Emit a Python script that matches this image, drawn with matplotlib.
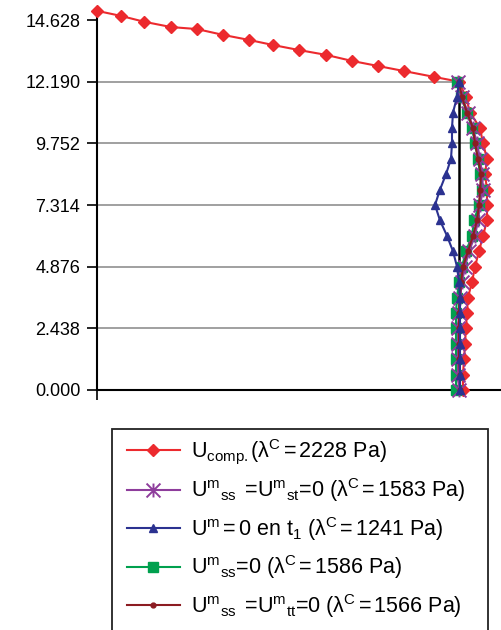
import matplotlib
matplotlib.use("Agg")
import matplotlib.pyplot as plt
from matplotlib.path import Path
from matplotlib.patches import Rectangle

plt.rcParams["font.family"] = ["Liberation Sans", "DejaVu Sans"]
plt.rcParams["mathtext.fontset"] = "custom"
plt.rcParams["mathtext.rm"] = "Liberation Sans"
plt.rcParams["mathtext.it"] = "Liberation Sans:italic"

# horizontal member (only drawn for the compression case)
beam_x = [-36.2, -33.8, -31.5, -28.8, -26.2, -23.6, -21.0, -18.6, -16.0, -13.3, -10.7, -8.1, -5.5, -2.5]
beam_y = [14.99, 14.79, 14.56, 14.35, 14.27, 14.04, 13.84, 13.64, 13.44, 13.25, 13.01, 12.81, 12.61, 12.38]

# node heights along the column
levels = [12.190, 11.581, 10.971, 10.362, 9.752, 9.143, 8.533, 7.924, 7.314, 6.705, 6.095,
          5.486, 4.876, 4.267, 3.657, 3.048, 2.438, 1.829, 1.219, 0.610, 0.000]

u_comp = [0.0, 0.7, 1.1, 2.1, 2.4, 2.8, 2.6, 2.8, 2.8, 2.8, 2.4, 2.0, 1.6, 1.3, 0.9, 0.8, 0.7, 0.6, 0.5, 0.4, 0.4]
u_ss_st = [-0.1, 0.3, 0.9, 1.4, 1.8, 2.1, 2.3, 2.4, 2.1, 1.9, 1.6, 1.0, 0.6, 0.3, 0.1, 0.0, -0.1, -0.1, -0.1, -0.1, 0.0]
u_t1 = [0.0, -0.2, -0.6, -0.7, -0.7, -0.8, -1.3, -1.9, -2.4, -1.9, -1.2, -0.6, -0.2, 0.0, 0.1, 0.1, 0.1, 0.1, 0.1, 0.1, 0.1]
u_ss = [-0.2, 0.2, 0.8, 1.3, 1.6, 1.9, 2.1, 2.3, 2.0, 1.5, 1.3, 0.7, 0.3, 0.0, -0.2, -0.3, -0.3, -0.3, -0.3, -0.3, -0.3]
u_ss_tt = [0.0, 0.3, 0.8, 1.4, 1.6, 1.9, 2.2, 2.1, 2.0, 1.8, 1.4, 0.9, 0.4, 0.2, 0.1, 0.0, 0.0, 0.0, 0.0, 0.1, 0.1]

yticks = [0.000, 2.438, 4.876, 7.314, 9.752, 12.190, 14.628]
grid_levels = [2.438, 4.876, 7.314, 9.752, 12.190]

labels = [
    r"U$_{\mathrm{comp.}}$(λ$^{\mathrm{C}}$$\,$=$\,$2228 Pa)",
    r"U$^{\mathrm{m}}{}_{\mathrm{ss}}$ $\,$=U$^{\mathrm{m}}{}_{\mathrm{st}}$=0 (λ$^{\mathrm{C}}$$\,$=$\,$1583 Pa)",
    r"U$^{\mathrm{m}}$$\,$=$\,$0 en t$_{\mathrm{1}}$ (λ$^{\mathrm{C}}$$\,$=$\,$1241 Pa)",
    r"U$^{\mathrm{m}}{}_{\mathrm{ss}}$=0 (λ$^{\mathrm{C}}$$\,$=$\,$1586 Pa)",
    r"U$^{\mathrm{m}}{}_{\mathrm{ss}}$ $\,$=U$^{\mathrm{m}}{}_{\mathrm{tt}}$=0 (λ$^{\mathrm{C}}$$\,$=$\,$1566 Pa)",
]

# Excel style asterisk: an X with a vertical stroke
star = Path([(-0.5, -0.5), (0.5, 0.5), (-0.5, 0.5), (0.5, -0.5), (0, -0.5), (0, 0.5)],
            [Path.MOVETO, Path.LINETO, Path.MOVETO, Path.LINETO, Path.MOVETO, Path.LINETO])

fig = plt.figure(figsize=(5.02, 6.30), dpi=100)
ax = fig.add_axes([97 / 502, 1 - 390 / 630, 1 - 97 / 502, (390 - 10.6) / 630])
ax.set_xlim(-36.2, 4.3)
ax.set_ylim(0, 15.0)

# grid lines run from the axis to the column
idx = [levels.index(g) for g in grid_levels]
ax.hlines(grid_levels, -36.2, [u_ss[i] for i in idx], color="#999999", lw=1.3, zorder=1)

ax.plot([0, 0], [0, levels[0]], color="black", lw=1.8, zorder=2.5)

l1, = ax.plot(beam_x + u_comp, beam_y + levels, color="#ec2a2e", lw=1.5, marker="D",
              ms=6.5, mec="#ec2a2e", zorder=3, clip_on=False)
l4, = ax.plot(u_ss, levels, color="#00a04e", lw=1.5, marker="s", ms=6.5, zorder=3.5, clip_on=False)
l2, = ax.plot(u_ss_st, levels, color="#8e3d9c", lw=1.5, marker=star, ms=10, mew=1.4,
              mfc="none", zorder=4, clip_on=False)
l5, = ax.plot(u_ss_tt, levels, color="#8c1c22", lw=1.5, marker="o", ms=3.5, zorder=4.5, clip_on=False)
l3, = ax.plot(u_t1, levels, color="#2b3290", lw=1.5, marker="^", ms=6, zorder=5, clip_on=False)

for side in ["top", "right"]:
    ax.spines[side].set_visible(False)
ax.spines["left"].set_linewidth(1.5)
ax.spines["bottom"].set_linewidth(1.5)
ax.spines["bottom"].set_zorder(2)

ax.set_yticks(yticks)
ax.set_yticklabels(["{:.3f}".format(v) for v in yticks], fontsize=13)
ax.set_xticks([-36.2])
ax.set_xticklabels([""])
ax.tick_params(direction="out", length=7, width=1.2, pad=5)

leg = fig.legend([l1, l2, l3, l4, l5], labels, loc="upper left",
                 bbox_to_anchor=(127 / 502, 1 - 437 / 630), frameon=False, fontsize=15.5,
                 handlelength=2.45, handletextpad=0.5, labelspacing=0.49,
                 borderpad=0, borderaxespad=0)

fig.add_artist(Rectangle((112 / 502, -0.05), (488 - 112) / 502, 0.05 + (630 - 429) / 630,
                         transform=fig.transFigure, fill=False, ec="#222222", lw=1.3))

fig.savefig("out.png", dpi=100)
